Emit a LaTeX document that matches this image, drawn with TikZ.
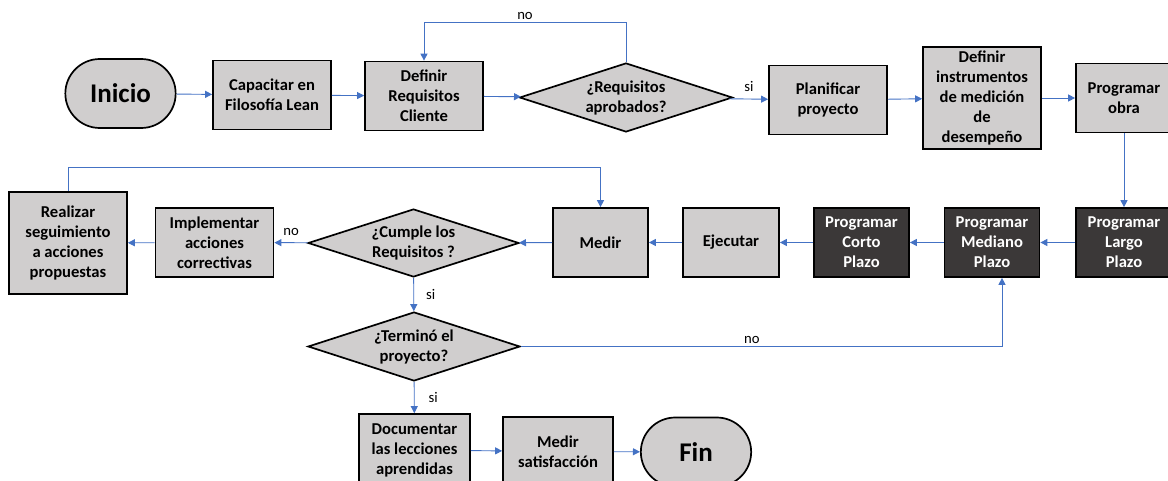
\documentclass[tikz,border=0pt]{standalone}
\usepackage{fontspec}
\setmainfont{Carlito}
\usetikzlibrary{positioning,arrows.meta,shapes.geometric,shapes.misc}
\definecolor{fcblue}{HTML}{4472C4}
\definecolor{fcgray}{HTML}{D0CECE}
\definecolor{fcdark}{HTML}{3B3838}

\begin{document}
\begin{tikzpicture}[x=1pt,y=-1pt,
    proc/.style={draw=black,line width=1.7pt,fill=fcgray,align=center,
      font=\bfseries\fontsize{16.6}{20}\selectfont,inner sep=0pt,
      minimum width=118pt,minimum height=69pt},
    procdark/.style={proc,fill=fcdark,text=white,minimum width=95pt},
    decision/.style={diamond,draw=black,line width=1.7pt,fill=fcgray,align=center,
      font=\bfseries\fontsize{16.6}{20}\selectfont,inner sep=0pt,aspect=3.1,
      minimum width=213pt,minimum height=69pt},
    term/.style={rounded rectangle,draw=black,line width=1.7pt,fill=fcgray,
      font=\bfseries\fontsize{27}{30}\selectfont,
      minimum width=117pt,minimum height=69pt},
    flow/.style={draw=fcblue,line width=0.9pt,-{Triangle[length=7pt,width=7pt]}},
    lbl/.style={font=\fontsize{14.7}{17}\selectfont,inner sep=2pt}]
    \clip (0,0) rectangle (1168,481);
    % first row
    \node[term] (inicio) at (120.5,93.5) {Inicio};
    \node[proc] (capacitar) at (272,95) {Capacitar en\\Filosofía Lean};
    \node[proc] (requisitos) at (424,96) {Definir\\Requisitos\\Cliente};
    \node[decision] (aprobados) at (626,97.5) {¿Requisitos\\aprobados?};
    \node[proc] (planificar) at (828,100) {Planificar\\proyecto};
    \node[proc,minimum height=102pt] (instrumentos) at (982,98)
      {Definir\\instrumentos\\de medición\\de\\desempeño};
    \node[proc,minimum width=96pt] (obra) at (1124,98) {Programar\\obra};
    % second row, right to left
    \node[procdark,minimum width=96pt] (largo) at (1124,242.5) {Programar\\Largo\\Plazo};
    \node[procdark] (mediano) at (992,242.5) {Programar\\Mediano\\Plazo};
    \node[procdark] (corto) at (861.5,242.5) {Programar\\Corto\\Plazo};
    \node[proc,minimum width=96pt] (ejecutar) at (731,242.5) {Ejecutar};
    \node[proc,minimum width=95pt] (medir) at (600.5,242.5) {Medir};
    \node[decision,minimum width=211pt,minimum height=68pt] (cumple) at (413.5,243)
      {¿Cumple los\\Requisitos ?};
    \node[proc] (correctivas) at (214.5,242.5) {Implementar\\acciones\\correctivas};
    \node[proc,minimum height=102pt] (seguimiento) at (68,243)
      {Realizar\\seguimiento\\a acciones\\propuestas};
    % closing
    \node[decision,minimum width=212pt] (termino) at (414,346.5) {¿Terminó el\\proyecto?};
    \node[proc,minimum width=111pt,minimum height=72pt] (lecciones) at (414.5,450)
      {Documentar\\las lecciones\\aprendidas};
    \node[proc,minimum width=110pt] (satisfaccion) at (558,451.5) {Medir\\satisfacción};
    \node[term] (fin) at (696,452) {Fin};
    % connectors
    \draw[flow] (inicio) -- (capacitar);
    \draw[flow] (capacitar) -- (requisitos);
    \draw[flow] (requisitos) -- (aprobados);
    \draw[flow] (aprobados.north) -- ++(0,-40) -| node[lbl,above,pos=0.25]{no} (requisitos.north);
    \draw[flow] (aprobados) -- node[lbl,above=5pt]{si} (planificar);
    \draw[flow] (planificar) -- (instrumentos);
    \draw[flow] (instrumentos) -- (obra);
    \draw[flow] (obra) -- (largo);
    \draw[flow] (largo) -- (mediano);
    \draw[flow] (mediano) -- (corto);
    \draw[flow] (corto) -- (ejecutar);
    \draw[flow] (ejecutar) -- (medir);
    \draw[flow] (medir) -- (cumple);
    \draw[flow] (cumple) -- node[lbl,above=5pt]{no} (correctivas);
    \draw[flow] (correctivas) -- (seguimiento);
    \draw[flow] (seguimiento.north) -- ++(0,-24) -| (medir.north);
    \draw[flow] (cumple) -- node[lbl,right=10pt]{si} (termino);
    \draw[flow] (termino.east) -| node[lbl,above,pos=0.24]{no} ([xshift=10pt]mediano.south);
    \draw[flow] (termino) -- node[lbl,right=12pt]{si} (lecciones);
    \draw[flow] (lecciones) -- (satisfaccion);
    \draw[flow] (satisfaccion) -- (fin);
\end{tikzpicture}
\end{document}
